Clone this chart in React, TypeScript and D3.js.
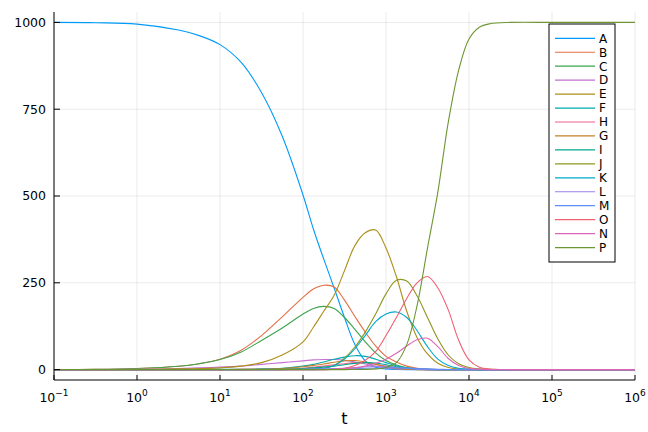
import React from 'react';
import * as d3 from 'd3';

// sample points along t, as powers of ten
const tExp = [-1, -0.5, 0, 0.5, 0.75, 1, 1.25, 1.5, 1.75, 2, 2.125, 2.25, 2.375, 2.5, 2.625, 2.75, 2.875,
  3, 3.125, 3.25, 3.375, 3.5, 3.625, 3.75, 3.875, 4, 4.125, 4.25, 4.5, 5, 5.5, 6];

const seriesA = [1000, 999, 995, 978, 962, 936, 886, 798, 672, 503, 405, 318, 235, 150, 72, 25, 7, 2, 0.5, 0, 0, 0, 0, 0, 0, 0, 0, 0, 0, 0, 0, 0];
const seriesB = [0, 0.5, 3, 9.5, 17, 30, 55, 98, 152, 208, 232, 243, 238, 200, 153, 108, 68, 38, 22, 10, 4, 1, 0, 0, 0, 0, 0, 0, 0, 0, 0, 0];
const seriesC = [0, 0.5, 3, 9.5, 17, 29, 50, 84, 120, 160, 176, 182, 176, 150, 116, 80, 48, 26, 13, 5, 2, 0.5, 0, 0, 0, 0, 0, 0, 0, 0, 0, 0];
const seriesD = [0, 0.2, 1, 3, 5, 7, 10, 15, 20, 25, 28, 29, 29, 27, 22, 16, 10, 5, 2, 1, 0.3, 0, 0, 0, 0, 0, 0, 0, 0, 0, 0, 0];
const seriesE = [0, 0, 0.5, 2, 3, 5, 10, 20, 42, 80, 122, 168, 214, 285, 357, 394, 402, 350, 268, 168, 92, 45, 18, 6, 2, 0.5, 0, 0, 0, 0, 0, 0];
const seriesF = [0, 0, 0, 0, 0.2, 0.5, 1, 2, 4, 10, 15, 22, 30, 36, 40, 38, 30, 20, 11, 5, 2, 0.5, 0, 0, 0, 0, 0, 0, 0, 0, 0, 0];
const seriesH = [0, 0, 0, 0, 0, 0, 0.5, 1, 2, 4, 7, 10, 14, 17, 20, 20, 16, 10, 5, 2, 0.5, 0, 0, 0, 0, 0, 0, 0, 0, 0, 0, 0];
const seriesG = [0, 0, 0, 0, 0.1, 0.3, 0.6, 1, 3, 8, 12, 16, 21, 25, 26, 22, 15, 8, 3, 1, 0, 0, 0, 0, 0, 0, 0, 0, 0, 0, 0, 0];
const seriesI = [0, 0, 0, 0, 0, 0, 0, 0.5, 1, 3, 5, 7, 10, 14, 18, 20, 19, 14, 8, 3, 1, 0, 0, 0, 0, 0, 0, 0, 0, 0, 0, 0];
const seriesJ = [0, 0, 0, 0, 0, 0, 0, 0, 0.5, 1, 2, 4, 12, 33, 65, 108, 160, 218, 257, 255, 212, 150, 88, 42, 17, 6, 2, 0.5, 0, 0, 0, 0];
const seriesK = [0, 0, 0, 0, 0, 0, 0, 0, 0, 1, 2, 4, 12, 30, 60, 98, 138, 160, 166, 150, 112, 66, 30, 12, 4, 1, 0, 0, 0, 0, 0, 0];
const seriesL = [0, 0, 0, 0, 0, 0, 0, 0, 0, 1, 1.5, 2, 3, 4, 6, 8, 9, 8, 6, 3, 1, 0.3, 0, 0, 0, 0, 0, 0, 0, 0, 0, 0];
const seriesM = [0, 0, 0, 0, 0, 0, 0, 0, 0, 0, 0, 1, 1.5, 2, 3, 4, 4.5, 5, 5, 4, 3, 2, 1, 0.3, 0, 0, 0, 0, 0, 0, 0, 0];
const seriesO = [0, 0, 0, 0, 0, 0, 0, 0, 0, 0, 0, 0, 1, 4, 12, 27, 52, 98, 150, 205, 250, 268, 235, 172, 85, 28, 7, 1.5, 0, 0, 0, 0];
const seriesN = [0, 0, 0, 0, 0, 0, 0, 0, 0, 0, 0, 0, 1, 2, 5, 10, 18, 30, 47, 68, 86, 90, 66, 32, 12, 3, 1, 0, 0, 0, 0, 0];
const seriesP = [0, 0, 0, 0, 0, 0, 0, 0, 0, 0, 0, 0, 0, 0, 0.2, 0.5, 2, 6, 20, 72, 185, 350, 512, 712, 862, 952, 986, 996, 1000, 1000, 1000, 1000];

const names = ['A', 'B', 'C', 'D', 'E', 'F', 'H', 'G', 'I', 'J', 'K', 'L', 'M', 'O', 'N', 'P'];
const allSeries = [seriesA, seriesB, seriesC, seriesD, seriesE, seriesF, seriesH, seriesG,
  seriesI, seriesJ, seriesK, seriesL, seriesM, seriesO, seriesN, seriesP];
const colors = ['#009AF9', '#E26F46', '#3DA44D', '#C371D2', '#AC8E18', '#00AAAE', '#ED5E93', '#C68225',
  '#00A98D', '#8E971E', '#00A9CB', '#9B7FE9', '#618DF6', '#F06073', '#DC65B7', '#6D9632'];

const xTickExp = [-1, 0, 1, 2, 3, 4, 5, 6];
const yTicks = [0, 250, 500, 750, 1000];

const font = '"DejaVu Sans", sans-serif';

export default function App() {
  const width = 648;
  const height = 432;
  const left = 54, right = 635, top = 12, bottom = 380;

  const x = d3.scaleLog().domain([0.1, 1e6]).range([left, right]);
  const y = d3.scaleLinear().domain([-30, 1030]).range([bottom, top]);

  const line = d3.line<[number, number]>()
    .x(d => x(d[0]))
    .y(d => y(d[1]))
    .curve(d3.curveCatmullRom.alpha(0.5));

  const legendX = 549, legendY = 24, legendW = 66, legendH = 238;
  const rowStep = 13.95;

  return (
    <div style={{ position: 'absolute', left: 0, top: 0 }}>
      <svg width={width} height={height} style={{ display: 'block', background: '#fff' }} fontFamily={font}>
        {/* grid */}
        {xTickExp.map(e => (
          <line key={'gx' + e} x1={x(10 ** e)} x2={x(10 ** e)} y1={top} y2={bottom}
            stroke="#000" strokeOpacity={0.1} strokeWidth={0.8} />
        ))}
        {yTicks.map(v => (
          <line key={'gy' + v} x1={left} x2={right} y1={y(v)} y2={y(v)}
            stroke="#000" strokeOpacity={0.1} strokeWidth={0.8} />
        ))}

        {/* series */}
        {allSeries.map((vals, i) => (
          <path key={names[i]}
            d={line(vals.map((v, j) => [10 ** tExp[j], v] as [number, number])) || ''}
            fill="none" stroke={colors[i]} strokeWidth={1.1} />
        ))}

        {/* axes */}
        <line x1={left} x2={left} y1={top} y2={bottom} stroke="#000" strokeWidth={1} />
        <line x1={left} x2={right} y1={bottom} y2={bottom} stroke="#000" strokeWidth={1} />
        {yTicks.map(v => (
          <g key={'ty' + v}>
            <line x1={left} x2={left + 6} y1={y(v)} y2={y(v)} stroke="#000" strokeWidth={1} />
            <text x={left - 8} y={y(v)} dy="0.35em" textAnchor="end" fontSize={12.5}>{v}</text>
          </g>
        ))}
        {xTickExp.map(e => (
          <g key={'tx' + e}>
            <line x1={x(10 ** e)} x2={x(10 ** e)} y1={bottom} y2={bottom - 5} stroke="#000" strokeWidth={1} />
            <text x={x(10 ** e)} y={402} textAnchor="middle" fontSize={12.5}>
              10<tspan fontSize={9} dy={-6}>{e < 0 ? '\u2212' + Math.abs(e) : e}</tspan>
            </text>
          </g>
        ))}
        <text x={(left + right) / 2} y={424} textAnchor="middle" fontSize={16}>t</text>

        {/* legend */}
        <rect x={legendX} y={legendY} width={legendW} height={legendH} fill="#fff" stroke="#000" strokeWidth={1} />
        {names.map((n, i) => {
          const ly = 38.3 + i * rowStep;
          return (
            <g key={'lg' + n}>
              <line x1={555} x2={595} y1={ly} y2={ly} stroke={colors[i]} strokeWidth={1.2} />
              <text x={599} y={ly} dy="0.36em" fontSize={12}>{n}</text>
            </g>
          );
        })}
      </svg>
    </div>
  );
}
